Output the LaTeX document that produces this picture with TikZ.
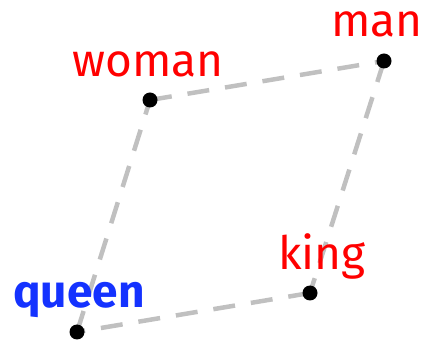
\documentclass[tikz,border=0pt]{standalone}
\usepackage{fontspec}
\setmainfont{Fira Sans}
\definecolor{qblue}{RGB}{20,50,255}
\definecolor{lgray}{RGB}{192,192,192}
\begin{document}
\begin{tikzpicture}[x=1pt,y=1pt,
  pt/.style={circle,fill=black,inner sep=0pt,minimum size=15pt},
  edge/.style={draw=lgray,line width=4.5pt,dash pattern=on 22pt off 16pt},
  lbl/.style={anchor=base,inner sep=0pt,font=\fontsize{46}{52}\selectfont,text=red}]
\useasboundingbox (0,0) rectangle (423,340);
\coordinate (woman) at (150,240);
\coordinate (man) at (384,279);
\coordinate (king) at (310,47);
\coordinate (queen) at (77,8);
\draw[edge] (woman) -- (man);
\draw[edge] (man) -- (king);
\draw[edge] (king) -- (queen);
\draw[edge] (queen) -- (woman);
\node[pt] (pw) at (woman) {};
\node[pt] (pm) at (man) {};
\node[pt] (pk) at (king) {};
\node[pt] (pq) at (queen) {};
\node[lbl] (lw) at (148,263) {woman};
\node[lbl] (lm) at (377,303) {man};
\node[lbl] (lk) at (322,70) {king};
\node[lbl,text=qblue,font=\fontsize{46}{52}\selectfont\bfseries] (lq) at (79,32) {queen};
\end{tikzpicture}
\end{document}
